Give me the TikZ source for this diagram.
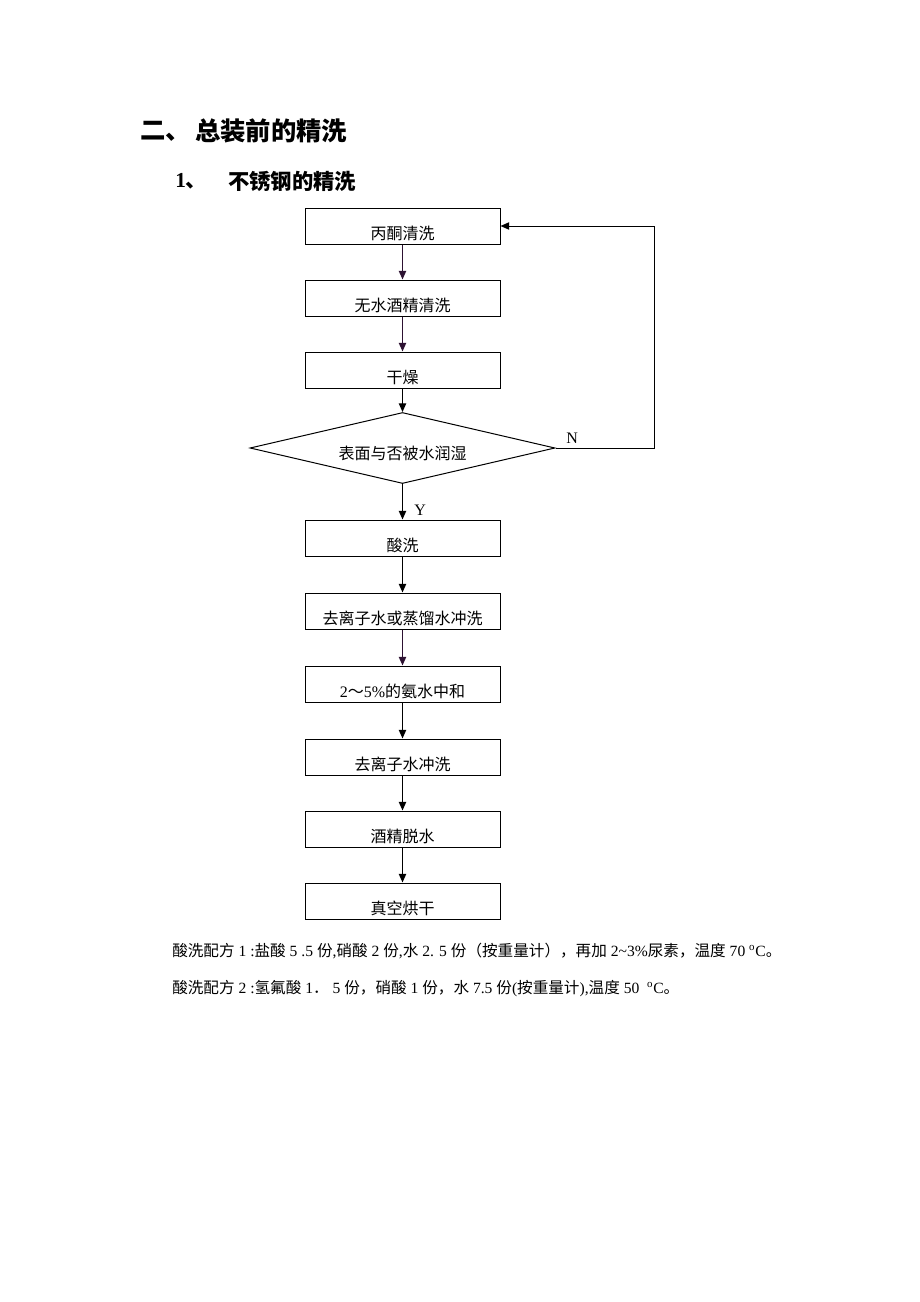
\documentclass[tikz,border=0pt]{standalone}
\usepackage{fontspec}
\setmainfont{Liberation Serif}
\newfontfamily\cjk{Noto Sans CJK SC}
\usepackage{xcolor}
\usepackage{tikz}
\usetikzlibrary{shapes.geometric, arrows.meta, positioning, calc}
\definecolor{flowpurple}{RGB}{45, 18, 50}
\newcommand{\zh}[1]{{\cjk #1}}

\begin{document}
\begin{tikzpicture}[x=0.75pt, y=-0.75pt,
  stepbox/.style={draw, line width=0.75pt, minimum width=146.25pt, minimum height=27pt, inner sep=0pt,
    text height=21pt, text depth=1pt, font=\cjk\fontsize{12}{14}\selectfont},
  decision/.style={draw, line width=0.75pt, diamond, aspect=4.3, minimum width=228.75pt, minimum height=53.25pt,
    inner sep=0pt, text height=18.2pt, text depth=1pt, font=\cjk\fontsize{12}{14}\selectfont},
  flow/.style={-{Triangle[length=6.5pt, width=5.5pt]}, line width=0.9pt}]
\useasboundingbox (0,0) rectangle (920,1302);

% Headings
\node[anchor=west, inner sep=0pt, font=\cjk\bfseries\fontsize{19}{22}\selectfont] (h1num) at (140,131) {二、};
\node[anchor=west, inner sep=0pt, font=\cjk\bfseries\fontsize{19}{22}\selectfont] (h1) at (195,131) {总装前的精洗};
\node[anchor=west, inner sep=0pt, font=\bfseries\fontsize{16}{19}\selectfont] (h2num) at (175,181) {1\zh{、}};
\node[anchor=west, inner sep=0pt, font=\cjk\bfseries\fontsize{16}{19}\selectfont] (h2) at (228,181) {不锈钢的精洗};

% Cleaning steps
\node[stepbox] (acetone) at (402.5,226) {丙酮清洗};
\node[stepbox] (ethanol) at (402.5,298) {无水酒精清洗};
\node[stepbox] (dry) at (402.5,370) {干燥};
\node[decision] (wet) at (402.5,448) {表面与否被水润湿};
\node[stepbox] (pickle) at (402.5,538) {酸洗};
\node[stepbox] (rinse) at (402.5,611) {去离子水或蒸馏水冲洗};
\node[stepbox] (neutral) at (402.5,684) {\rmfamily 2\zh{～}5\%\zh{的氨水中和}};
\node[stepbox] (rinsetwo) at (402.5,757) {去离子水冲洗};
\node[stepbox] (dewater) at (402.5,829) {酒精脱水};
\node[stepbox] (vacuum) at (402.5,901) {真空烘干};

% Connectors
\draw[flow, flowpurple] (acetone) -- (ethanol);
\draw[flow, flowpurple] (ethanol) -- (dry);
\draw[flow] (dry) -- (wet);
\draw[flow] (wet) -- (pickle);
\draw[flow] (pickle) -- (rinse);
\draw[flow, flowpurple] (rinse) -- (neutral);
\draw[flow] (neutral) -- (rinsetwo);
\draw[flow] (rinsetwo) -- (dewater);
\draw[flow] (dewater) -- (vacuum);
\draw[flow, line width=0.75pt] (wet.east) -- ++(99,0) |- (acetone.east);

% Branch labels
\node[anchor=base west, inner sep=0pt, font=\fontsize{12}{14}\selectfont] (no) at (566,443) {N};
\node[anchor=base west, inner sep=0pt, font=\fontsize{12}{14}\selectfont] (yes) at (414,515) {Y};

% Pickling recipes
\node[anchor=base west, inner sep=0pt, font=\fontsize{11.7}{14}\selectfont] (recipeone) at (172,956)
  {\zh{酸洗配方} 1 :\zh{盐酸} 5 .5 \zh{份},\zh{硝酸} 2 \zh{份},\zh{水} 2. 5 \zh{份（按重量计），再加} 2\textasciitilde3\%\zh{尿素，温度} 70 \textsuperscript{o}C\zh{。}};
\node[anchor=base west, inner sep=0pt, font=\fontsize{11.7}{14}\selectfont] (recipetwo) at (172,993)
  {\zh{酸洗配方} 2 :\zh{氢氟酸} 1\zh{．} 5 \zh{份，硝酸} 1 \zh{份，水} 7.5 \zh{份}(\zh{按重量计}),\zh{温度} 50 \ \textsuperscript{o}C\zh{。}};
\end{tikzpicture}
\end{document}
